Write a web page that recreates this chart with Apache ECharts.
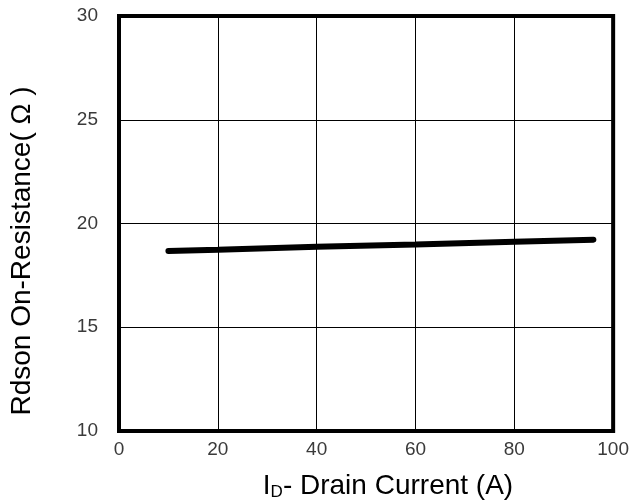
<!DOCTYPE html>
<html>
<head>
<meta charset="utf-8">
<script src="https://cdn.jsdelivr.net/npm/echarts@6/dist/echarts.min.js"></script>
<style>html,body{margin:0;padding:0;background:#fff}#c{width:632px;height:502px}</style>
</head>
<body>
<div id="c"></div>
<script>
const xValues = [10, 20, 40, 60, 80, 96];
const rdsonValues = [18.68, 18.74, 18.88, 18.99, 19.12, 19.22];
const yAxisName = 'Rdson On-Resistance( Ω )';
const xAxisNameMain = 'I';
const xAxisNameSub = 'D';
const xAxisNameRest = '- Drain Current (A)';

const chart = echarts.init(document.getElementById('c'));
const font = '"Liberation Sans", Arial, sans-serif';
chart.setOption({
  animation: false,
  backgroundColor: '#fff',
  grid: { left: 119, right: 18, top: 16, bottom: 71, show: true, borderColor: '#000', borderWidth: 4 },
  xAxis: {
    type: 'value', min: 0, max: 100, interval: 20,
    axisLine: { show: true, lineStyle: { color: '#000', width: 4 } },
    axisTick: { show: false },
    splitLine: { show: true, lineStyle: { color: '#000', width: 1 } },
    axisLabel: { color: '#3a3a3a', fontSize: 19, fontFamily: font, margin: 9 }
  },
  yAxis: {
    type: 'value', min: 10, max: 30, interval: 5,
    axisLine: { show: true, lineStyle: { color: '#000', width: 4 } },
    axisTick: { show: false },
    splitLine: { show: true, lineStyle: { color: '#000', width: 1 } },
    axisLabel: { color: '#3a3a3a', fontSize: 19, fontFamily: font, margin: 21 }
  },
  graphic: [
    {
      type: 'text', x: 22, y: 251, rotation: Math.PI / 2,
      style: { text: yAxisName, fontSize: 28, fontFamily: font, fill: '#000', align: 'center', verticalAlign: 'middle' }
    },
    {
      type: 'text', x: 388, y: 486,
      style: {
        text: '{i|' + xAxisNameMain + '}{s|' + xAxisNameSub + '}{i|' + xAxisNameRest + '}',
        fontFamily: font, align: 'center', verticalAlign: 'middle',
        rich: {
          i: { fontSize: 28, fontFamily: font, fill: '#000', color: '#000', lineHeight: 30 },
          s: { fontSize: 17, fontFamily: font, fill: '#000', color: '#000', verticalAlign: 'bottom', lineHeight: 17 }
        }
      }
    }
  ],
  series: [{
    type: 'line',
    data: xValues.map((x, i) => [x, rdsonValues[i]]),
    showSymbol: false,
    lineStyle: { color: '#000', width: 6, cap: 'round' },
    itemStyle: { color: '#000' }
  }]
});
</script>
</body>
</html>
